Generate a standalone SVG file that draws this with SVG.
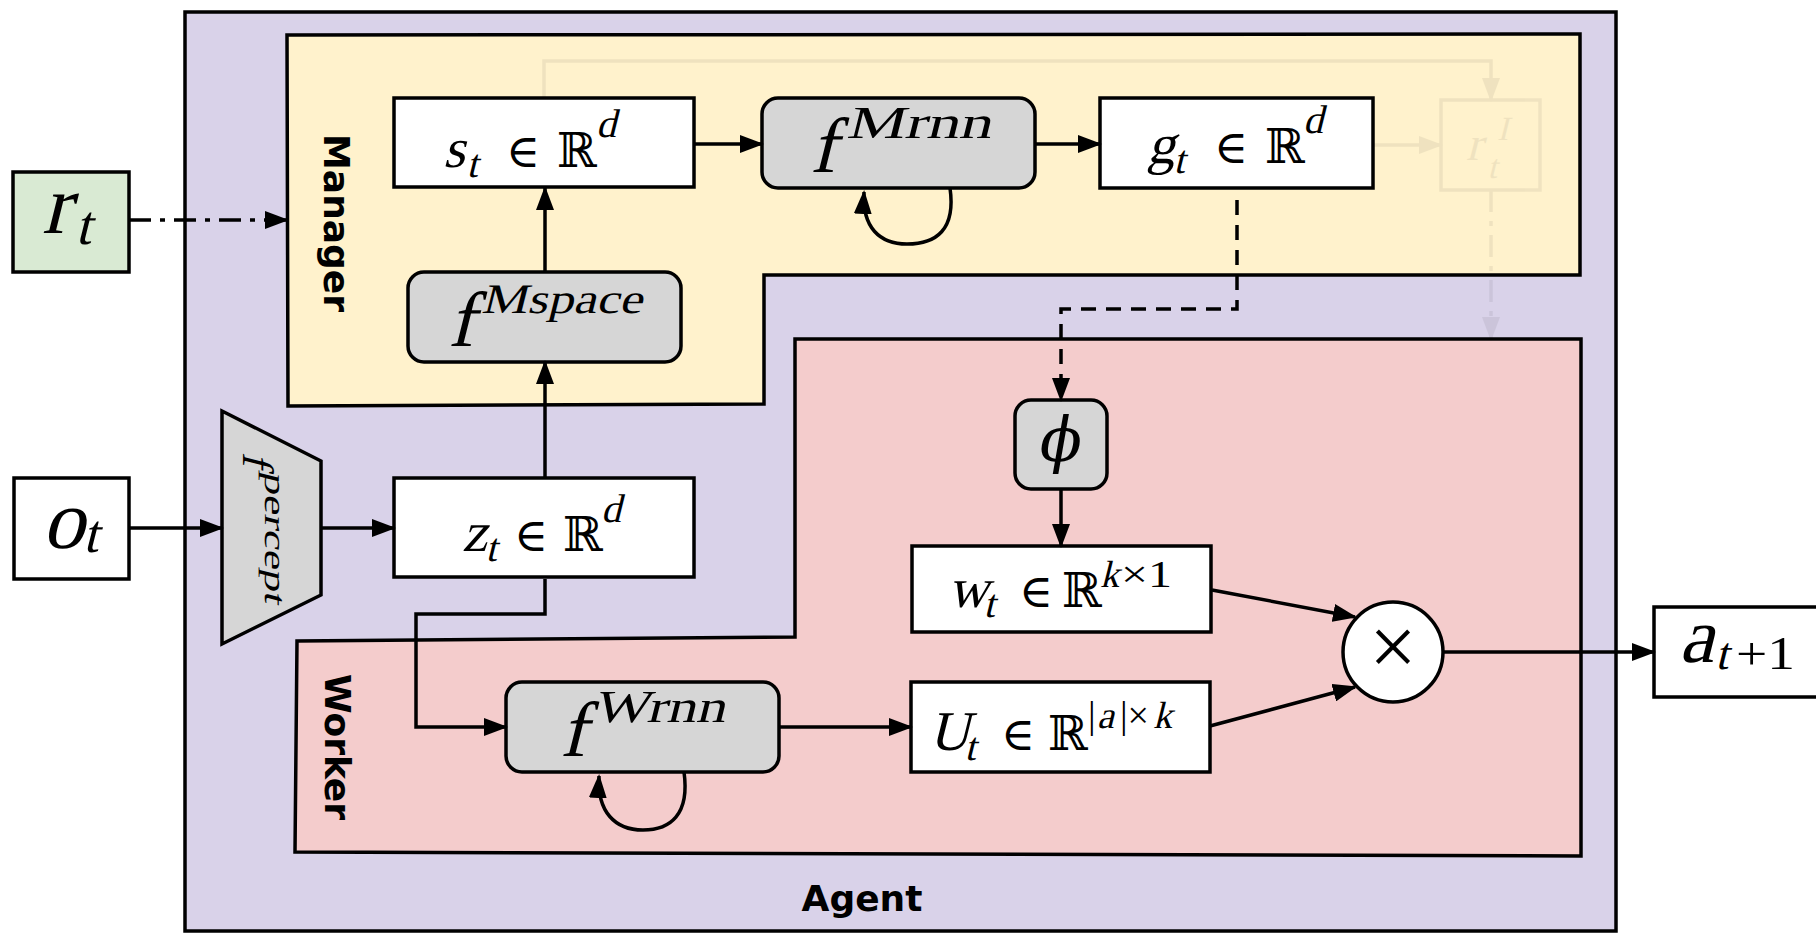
<svg xmlns="http://www.w3.org/2000/svg" width="1816" height="934" viewBox="0 0 1816 934">
<defs>
<marker id="ah" markerWidth="24" markerHeight="18" refX="22" refY="9" orient="auto" markerUnits="userSpaceOnUse"><path d="M0,0 L24,9 L0,18 Z" fill="#000"/></marker>
</defs>
<style>
.box{fill:#fff;stroke:#000;stroke-width:3.5}
.gray{fill:#D6D6D6;stroke:#000;stroke-width:3.5}
.ln{fill:none;stroke:#000;stroke-width:3.5}
.mi{font-family:'Liberation Serif','Times New Roman',serif;font-style:normal;fill:#000}
.mr{font-family:'DejaVu Serif',serif;font-style:normal;fill:#000}
.lbl{font-family:'DejaVu Sans',sans-serif;font-weight:bold;font-size:36px;fill:#000}
</style>
<rect width="1816" height="934" fill="#fff"/>

<g id="agent">
<rect x="185" y="12" width="1431" height="919" fill="#D9D2E9" stroke="#000" stroke-width="3.5"/>
<text class="lbl" x="862" y="911" text-anchor="middle">Agent</text>
</g>

<g id="manager">
<path d="M287,35 L1580,34 L1580,275 L764,275 L764,404 L288,406 Z" fill="#FFF2CC" stroke="#000" stroke-width="3.5"/>
<text class="lbl" transform="translate(324,223) rotate(90)" x="0" y="0" text-anchor="middle">Manager</text>
</g>

<g id="worker">
<path d="M795,339 L1581,339 L1581,856 L295,852 L297,641 L795,637 Z" fill="#F4CCCC" stroke="#000" stroke-width="3.5"/>
<text class="lbl" transform="translate(325,747) rotate(90)" x="0" y="0" text-anchor="middle">Worker</text>
</g>

<g id="faint-intrinsic" opacity="0.06">
<rect x="1441" y="100" width="99" height="90" fill="none" stroke="#000" stroke-width="3.5"/>
<text class="mi" transform="translate(1466,160) skewX(-14)" font-size="48">r<tspan x="26" y="-20" font-size="34">I</tspan><tspan x="26" y="18" font-size="34">t</tspan></text>
<path class="ln" d="M544,98 L544,61 L1491,61 L1491,100" marker-end="url(#ah)"/>
<path class="ln" d="M1373,145 L1441,145" marker-end="url(#ah)"/>
<path class="ln" d="M1491,190 L1491,339" stroke-dasharray="22 9 5 9" marker-end="url(#ah)"/>
</g>

<g id="r_t">
<rect x="13" y="172" width="116" height="100" fill="#D9EAD3" stroke="#000" stroke-width="3.5"/>
<text class="mi" transform="translate(42,233) skewX(-14)" font-size="84">r<tspan x="36" y="11" font-size="56">t</tspan></text>
</g>

<g id="o_t">
<rect x="14" y="478" width="115" height="101" class="box"/>
<text class="mi" transform="translate(42,548) skewX(-14)" font-size="84">o<tspan x="42" y="4" font-size="54">t</tspan></text>
</g>

<g id="s_t">
<rect x="394" y="98" width="300" height="89" class="box"/>
<text class="mi" transform="translate(443,167) skewX(-14)" font-size="56">s<tspan x="26" y="10" font-size="40">t</tspan></text>
<text class="mr" x="506" y="167" font-size="46">∈</text>
<text class="mr" x="557" y="167" font-size="48">ℝ</text>
<text class="mi" transform="translate(596,137) skewX(-14)" font-size="40">d</text>
</g>

<g id="f_Mrnn">
<rect x="762" y="98" width="273" height="90" rx="16" class="gray"/>
<text class="mi" transform="translate(810,172) skewX(-14)" font-size="78">f</text>
<text class="mi" transform="translate(846,138) skewX(-14)" font-size="46" textLength="145" lengthAdjust="spacingAndGlyphs">Mrnn</text>
</g>

<g id="g_t">
<rect x="1100" y="98" width="273" height="90" class="box"/>
<text class="mi" transform="translate(1147,163) skewX(-14)" font-size="56">g<tspan x="29" y="10" font-size="40">t</tspan></text>
<text class="mr" x="1214" y="163" font-size="46">∈</text>
<text class="mr" x="1265" y="163" font-size="48">ℝ</text>
<text class="mi" transform="translate(1303,133) skewX(-14)" font-size="40">d</text>
</g>

<g id="f_Mspace">
<rect x="408" y="272" width="273" height="90" rx="16" class="gray"/>
<text class="mi" transform="translate(448,346) skewX(-14)" font-size="78">f</text>
<text class="mi" transform="translate(481,313) skewX(-14)" font-size="42" textLength="161" lengthAdjust="spacingAndGlyphs">Mspace</text>
</g>

<g id="f_percept">
<path d="M222,411 L321,461 L321,595 L222,644 Z" class="gray"/>
<text class="mi" transform="rotate(90) translate(452,-243) skewX(-14)" font-size="44">f</text>
<text class="mi" transform="rotate(90) translate(471,-265) skewX(-14)" font-size="30" textLength="132" lengthAdjust="spacingAndGlyphs">percept</text>
</g>

<g id="z_t">
<rect x="394" y="478" width="300" height="99" class="box"/>
<text class="mi" transform="translate(462,551) skewX(-14)" font-size="56">z<tspan x="26" y="10" font-size="40">t</tspan></text>
<text class="mr" x="514" y="551" font-size="46">∈</text>
<text class="mr" x="563" y="551" font-size="48">ℝ</text>
<text class="mi" transform="translate(601,522) skewX(-14)" font-size="40">d</text>
</g>

<g id="phi">
<rect x="1015" y="400" width="92" height="89" rx="16" class="gray"/>
<text class="mr" transform="translate(1058,461) skewX(-10)" font-size="62" text-anchor="middle">ϕ</text>
</g>

<g id="w_t">
<rect x="912" y="546" width="299" height="86" class="box"/>
<text class="mi" transform="translate(948,607) skewX(-14)" font-size="56">w<tspan x="38" y="10" font-size="40">t</tspan></text>
<text class="mr" x="1019" y="607" font-size="46">∈</text>
<text class="mr" x="1062" y="607" font-size="48">ℝ</text>
<text class="mi" transform="translate(1100,587) skewX(-14)" font-size="38">k</text>
<text class="mi" x="1121" y="587" font-size="38" textLength="51" lengthAdjust="spacingAndGlyphs">×1</text>
</g>

<g id="f_Wrnn">
<rect x="506" y="682" width="273" height="90" rx="16" class="gray"/>
<text class="mi" transform="translate(560,756) skewX(-14)" font-size="78">f</text>
<text class="mi" transform="translate(593,722) skewX(-14)" font-size="46" textLength="132" lengthAdjust="spacingAndGlyphs">Wrnn</text>
</g>

<g id="U_t">
<rect x="911" y="682" width="299" height="90" class="box"/>
<text class="mi" transform="translate(929,750) skewX(-14)" font-size="56">U<tspan x="38" y="10" font-size="40">t</tspan></text>
<text class="mr" x="1001" y="750" font-size="46">∈</text>
<text class="mr" x="1048" y="750" font-size="48">ℝ</text>
<text class="mi" font-size="38"><tspan x="1088" y="728">|</tspan><tspan x="1120" y="728">|×</tspan></text>
<text class="mi" transform="translate(1097,728) skewX(-14)" font-size="38">a<tspan x="56" y="0">k</tspan></text>
</g>

<g id="mult">
<circle cx="1393" cy="652" r="50" class="box"/>
<text class="mi" x="1393" y="675" font-size="84" text-anchor="middle">×</text>
</g>

<g id="a_t1">
<rect x="1654" y="607" width="170" height="90" class="box"/>
<text class="mi" transform="translate(1679,662) skewX(-14)" font-size="78">a<tspan x="38" y="7" font-size="46">t</tspan></text>
<text class="mi" x="1736" y="669" font-size="46" textLength="59" lengthAdjust="spacingAndGlyphs">+1</text>
</g>

<g id="connectors">
<path class="ln" d="M129,220 L287,220" stroke-dasharray="22 9 5 9" marker-end="url(#ah)"/>
<path class="ln" d="M694,144 L762,144" marker-end="url(#ah)"/>
<path class="ln" d="M1035,144 L1100,144" marker-end="url(#ah)"/>
<path class="ln" d="M950,188 C956,230 936,244 907,244 C880,244 862,228 864,192" marker-end="url(#ah)"/>
<path class="ln" d="M545,272 L545,188" marker-end="url(#ah)"/>
<path class="ln" d="M545,478 L545,362" marker-end="url(#ah)"/>
<path class="ln" d="M129,528 L222,528" marker-end="url(#ah)"/>
<path class="ln" d="M321,528 L394,528" marker-end="url(#ah)"/>
<path class="ln" d="M545,579 L545,614 L416,614 L416,727 L506,727" marker-end="url(#ah)"/>
<path class="ln" d="M684,772 C690,815 670,830 643,830 C615,830 597,812 599,776" marker-end="url(#ah)"/>
<path class="ln" d="M779,727 L911,727" marker-end="url(#ah)"/>
<path class="ln" d="M1237,200 L1237,309 L1061,309 L1061,400" stroke-dasharray="15 10" marker-end="url(#ah)"/>
<path class="ln" d="M1061,490 L1061,546" marker-end="url(#ah)"/>
<path class="ln" d="M1212,590 L1355,617" marker-end="url(#ah)"/>
<path class="ln" d="M1210,726 L1355,687" marker-end="url(#ah)"/>
<path class="ln" d="M1443,652 L1654,652" marker-end="url(#ah)"/>
</g>
</svg>
